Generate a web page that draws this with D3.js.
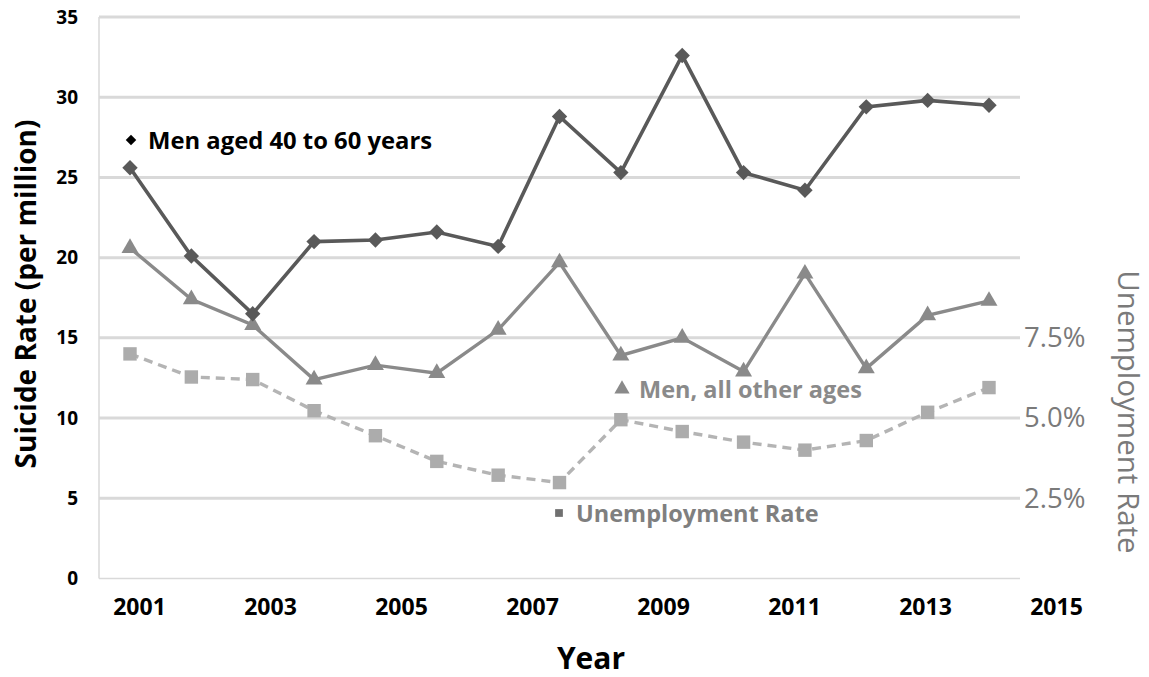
<!DOCTYPE html>
<html>
<head>
<meta charset="utf-8">
<script src="https://cdn.jsdelivr.net/npm/d3@7"></script>
<style>
  html, body { margin: 0; padding: 0; background: #ffffff; }
  svg { display: block; font-family: "Open Sans", Lato, "DejaVu Sans", sans-serif; }
</style>
</head>
<body>
<svg id="chart" width="1149" height="677"></svg>
<script>
// ---- data ----
const yearTicks = [2001, 2003, 2005, 2007, 2009, 2011, 2013, 2015];
const pointIndex = [0, 1, 2, 3, 4, 5, 6, 7, 8, 9, 10, 11, 12, 13, 14];
const menAged40to60 = [25.6, 20.1, 16.5, 21.0, 21.1, 21.6, 20.7, 28.8, 25.3, 32.6, 25.3, 24.2, 29.4, 29.8, 29.5];
const menOtherAges = [20.6, 17.4, 15.8, 12.4, 13.3, 12.8, 15.5, 19.7, 13.9, 15.0, 12.9, 19.0, 13.1, 16.4, 17.3];
const unemploymentPct = [7.0, 6.28, 6.2, 5.23, 4.45, 3.65, 3.22, 2.99, 4.95, 4.58, 4.25, 4.0, 4.3, 5.18, 5.95];
const leftTicks = [0, 5, 10, 15, 20, 25, 30, 35];
const rightTicks = [2.5, 5.0, 7.5];
const seriesLabels = ["Men aged 40 to 60 years", "Men, all other ages", "Unemployment Rate"];

// ---- layout ----
const svg = d3.select("#chart");
const plot = { left: 99, right: 1020, top: 17, bottom: 578.5 };

const yLeft = d3.scaleLinear().domain([0, 35]).range([plot.bottom, plot.top]);
const yRight = d3.scaleLinear().domain([0, 17.5]).range([plot.bottom, plot.top]);
const xYear = d3.scaleLinear().domain([2001, 2015]).range([139, 1056]);
const xPt = d3.scalePoint().domain(pointIndex).range([130, 989]);

// gridlines
svg.append("g").selectAll("line")
  .data(leftTicks.filter(d => d > 0))
  .join("line")
  .attr("x1", plot.left).attr("x2", plot.right)
  .attr("y1", d => yLeft(d)).attr("y2", d => yLeft(d))
  .attr("stroke", "#d9d9d9").attr("stroke-width", 3);

// plot frame (left + bottom)
svg.append("line").attr("x1", plot.left).attr("x2", plot.left)
  .attr("y1", plot.top).attr("y2", plot.bottom)
  .attr("stroke", "#d9d9d9").attr("stroke-width", 1.5);
svg.append("line").attr("x1", plot.left).attr("x2", plot.right)
  .attr("y1", plot.bottom).attr("y2", plot.bottom)
  .attr("stroke", "#d9d9d9").attr("stroke-width", 1.5);

// left axis
const gLeft = svg.append("g").attr("transform", `translate(78,0)`)
  .call(d3.axisLeft(yLeft).tickValues(leftTicks).tickSize(0).tickPadding(0).tickFormat(d3.format("d")));
gLeft.select(".domain").remove();
gLeft.selectAll("text").attr("font-size", 19).attr("font-weight", "bold").attr("fill", "#000")
  .attr("font-family", "'Open Sans', sans-serif");

// right axis
const gRight = svg.append("g").attr("transform", `translate(1024,0)`)
  .call(d3.axisRight(yRight).tickValues(rightTicks).tickSize(0).tickPadding(0).tickFormat(d3.format(".1f")));
gRight.select(".domain").remove();
gRight.selectAll("text").text(d => d3.format(".1f")(d) + "%")
  .attr("font-size", 27.5).attr("fill", "#7a7a7a").attr("font-family", "'Open Sans', sans-serif");

// x axis
const gX = svg.append("g").attr("transform", `translate(0,607)`)
  .call(d3.axisBottom(xYear).tickValues(yearTicks).tickSize(0).tickPadding(0).tickFormat(d3.format("d")));
gX.select(".domain").remove();
gX.selectAll("text").attr("dy", "0.35em").attr("font-size", 23).attr("font-weight", "bold").attr("fill", "#000")
  .attr("font-family", "'Open Sans', sans-serif");

// axis titles
svg.append("text").attr("transform", "translate(25,294) rotate(-90)")
  .attr("text-anchor", "middle").attr("dominant-baseline", "central")
  .attr("font-size", 28).attr("font-weight", "bold").attr("fill", "#000")
  .text("Suicide Rate (per million)");
svg.append("text").attr("transform", "translate(1129,412) rotate(90)")
  .attr("text-anchor", "middle").attr("dominant-baseline", "central")
  .attr("font-size", 29.5).attr("fill", "#7a7a7a")
  .text("Unemployment Rate");
svg.append("text").attr("x", 591).attr("y", 657)
  .attr("text-anchor", "middle").attr("dominant-baseline", "central")
  .attr("font-size", 30).attr("font-weight", "bold").attr("fill", "#000")
  .text("Year");

// lines
const lineLeft = (vals) => d3.line().x((d, i) => xPt(pointIndex[i])).y(d => yLeft(d))(vals);
const lineRight = (vals) => d3.line().x((d, i) => xPt(pointIndex[i])).y(d => yRight(d))(vals);

svg.append("path").attr("d", lineRight(unemploymentPct))
  .attr("fill", "none").attr("stroke", "#b4b4b4").attr("stroke-width", 3.4)
  .attr("stroke-dasharray", "9,6");
svg.append("path").attr("d", lineLeft(menOtherAges))
  .attr("fill", "none").attr("stroke", "#8a8a8a").attr("stroke-width", 3.4);
svg.append("path").attr("d", lineLeft(menAged40to60))
  .attr("fill", "none").attr("stroke", "#595959").attr("stroke-width", 3.6);

// markers
const sq = d3.symbol().type(d3.symbolSquare).size(180);
const tri = d3.symbol().type(d3.symbolTriangle).size(125);
const dia = d3.symbol().type(d3.symbolSquare).size(118);

svg.append("g").selectAll("path").data(unemploymentPct).join("path")
  .attr("transform", (d, i) => `translate(${xPt(pointIndex[i])},${yRight(d)})`)
  .attr("d", sq).attr("fill", "#acacac");
svg.append("g").selectAll("path").data(menOtherAges).join("path")
  .attr("transform", (d, i) => `translate(${xPt(pointIndex[i])},${yLeft(d)})`)
  .attr("d", tri).attr("fill", "#8a8a8a");
svg.append("g").selectAll("path").data(menAged40to60).join("path")
  .attr("transform", (d, i) => `translate(${xPt(pointIndex[i])},${yLeft(d)}) rotate(45)`)
  .attr("d", dia).attr("fill", "#595959");

// inline series labels
function label(x, y, sym, rot, symFill, symSize, text, color, fs) {
  const g = svg.append("g");
  g.append("path").attr("transform", `translate(${x},${y}) rotate(${rot})`)
    .attr("d", d3.symbol().type(sym).size(symSize)).attr("fill", symFill);
  g.append("text").attr("x", x + 17).attr("y", y).attr("dominant-baseline", "central")
    .attr("font-size", fs).attr("font-weight", "bold").attr("fill", color).text(text);
}
label(131, 140, d3.symbolSquare, 45, "#000", 55, seriesLabels[0], "#000", 23.8);
label(622, 389, d3.symbolTriangle, 0, "#8a8a8a", 100, seriesLabels[1], "#8a8a8a", 23.5);
label(559, 513, d3.symbolSquare, 0, "#707070", 60, seriesLabels[2], "#7f7f7f", 23.5);
</script>
</body>
</html>
